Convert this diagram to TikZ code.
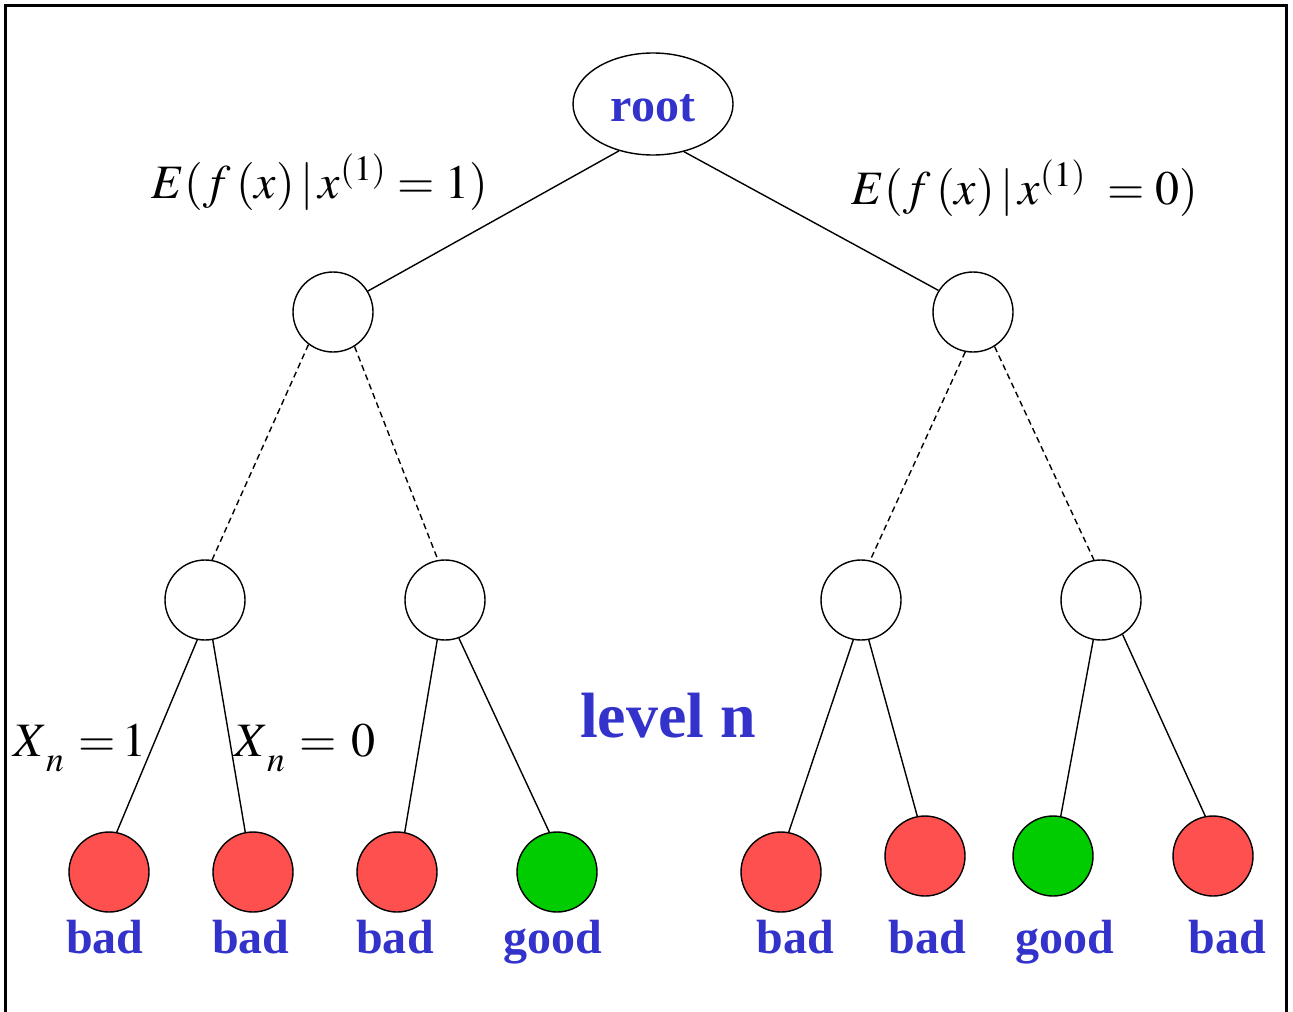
\documentclass[tikz,border=0pt]{standalone}
\usepackage{mathptmx}
\usepackage[no-math]{fontspec}
\setmainfont{Liberation Serif}
\usetikzlibrary{shapes.geometric}
\usepackage{xcolor}
\definecolor{lblblue} {RGB}{ 51, 51,204}
\definecolor{badred}  {RGB}{255, 80, 80}
\definecolor{goodgreen}{RGB}{  0,204,  0}

\begin{document}
\begin{tikzpicture}[
    x=0.5pt, y=-0.5pt,
    inner/.style={draw, circle, minimum size=40pt, inner sep=0pt, line width=0.7pt},
    badleaf/.style={inner, fill=badred},
    goodleaf/.style={inner, fill=goodgreen},
    rootbox/.style={draw, ellipse, minimum width=80pt, minimum height=51pt, inner sep=0pt, line width=0.7pt},
    lbl/.style={text=lblblue, font=\fontsize{24}{24}\selectfont\bfseries, inner sep=0pt, anchor=base},
    mathlbl/.style={font=\fontsize{24}{24}\selectfont, inner sep=0pt, anchor=base},
    edge/.style={line width=0.7pt},
    dashedge/.style={edge, dash pattern=on 3pt off 2pt}
]
    \useasboundingbox (0,0) rectangle (1293,1011);
    \draw[line width=1.5pt] (5,1020) -- (5,6) -- (1286,6) -- (1286,1020);

    \node[rootbox] (root) at (653,104) {};
    \node[lbl] at (653,121) {root};

    \node[inner] (a) at (333,312) {};
    \node[inner] (b) at (973,312) {};

    \node[inner] (c) at (205,600) {};
    \node[inner] (d) at (445,600) {};
    \node[inner] (e) at (861,600) {};
    \node[inner] (f) at (1101,600) {};

    \node[badleaf] (l1) at (109,872) {};
    \node[badleaf] (l2) at (253,872) {};
    \node[badleaf] (l3) at (397,872) {};
    \node[goodleaf] (l4) at (557,872) {};
    \node[badleaf] (l5) at (781,872) {};
    \node[badleaf] (l6) at (925,856) {};
    \node[goodleaf] (l7) at (1053,856) {};
    \node[badleaf] (l8) at (1213,856) {};

    \node[lbl] (t1) at (105,953) {bad};
    \node[lbl] (t2) at (251,953) {bad};
    \node[lbl] (t3) at (395,953) {bad};
    \node[lbl] (t4) at (553,953) {good};
    \node[lbl] (t5) at (795,953) {bad};
    \node[lbl] (t6) at (927,953) {bad};
    \node[lbl] (t7) at (1065,953) {good};
    \node[lbl] (t8) at (1227,953) {bad};

    \node[lbl, font=\fontsize{32}{32}\selectfont\bfseries] (lev) at (668,737) {level n};

    \node[mathlbl] (e1) at (320,198) {$E(f\,(x)\,|\,x^{(1)}=1)$};
    \node[mathlbl] (e0) at (1025,204) {$E(f\,(x)\,|\,x^{(1)}\;=0)$};
    \node[mathlbl] (x1) at (80,756) {$X_{\,\lower4pt\hbox{$\scriptstyle n$}}\hspace{7pt}{=}\hspace{3pt}1$};
    \node[mathlbl] (x0) at (305,756) {$X_{\,\lower4pt\hbox{$\scriptstyle n$}}\hspace{7pt}{=}\hspace{7pt}0$};

    \draw[edge] (root.234) -- (a.31);
    \draw[edge] (root.303) -- (b.148);

    \draw[dashedge] (a.233) -- (c.80);
    \draw[dashedge] (a.302) -- (d.100);
    \draw[dashedge] (b.259) -- (e.77);
    \draw[dashedge] (b.302) -- (f.100);

    \draw[edge] (c.259) -- (l1.79);
    \draw[edge] (c.281) -- (l2.101);
    \draw[edge] (d.259) -- (l3.79);
    \draw[edge] (d.290) -- (l4.101);
    \draw[edge] (e.259) -- (l5.79);
    \draw[edge] (e.281) -- (l6.101);
    \draw[edge] (f.259) -- (l7.79);
    \draw[edge] (f.302) -- (l8.101);
\end{tikzpicture}
\end{document}
